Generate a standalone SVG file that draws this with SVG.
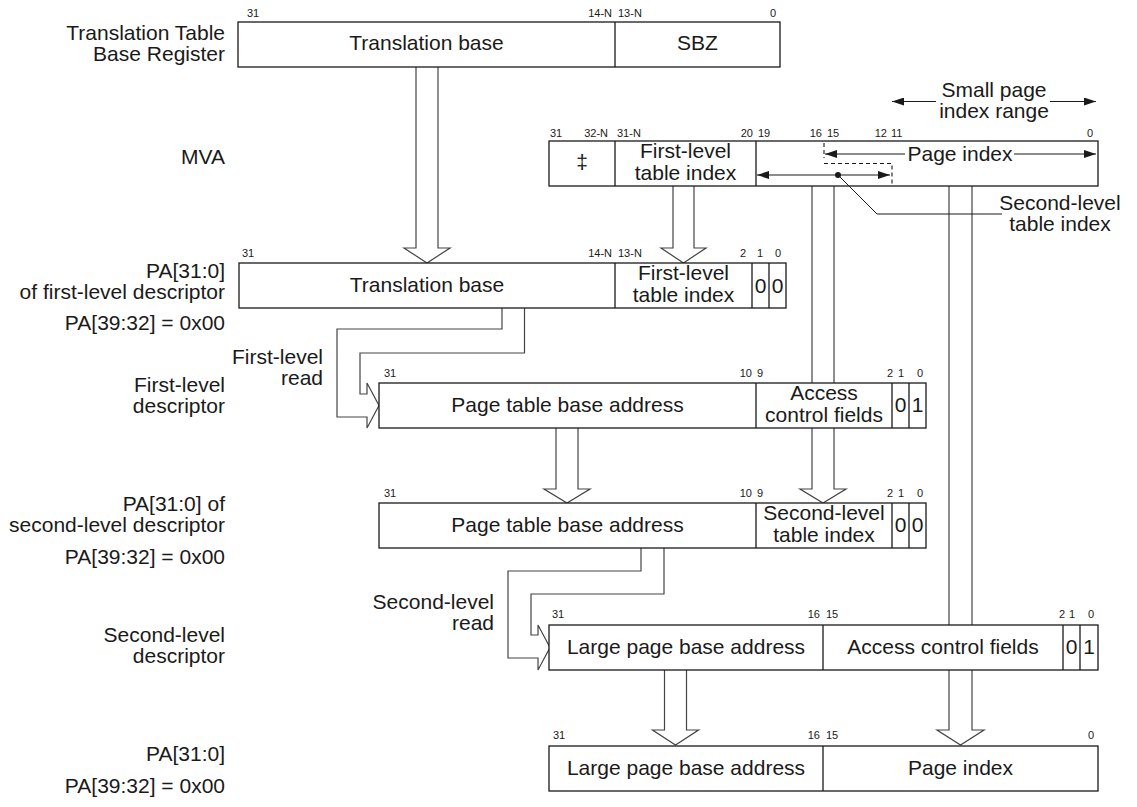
<svg xmlns="http://www.w3.org/2000/svg" width="1137" height="807" viewBox="0 0 1137 807">
<defs>
<marker id="ah" viewBox="0 0 12 8" refX="12" refY="4" markerWidth="12" markerHeight="8" markerUnits="userSpaceOnUse" orient="auto-start-reverse"><path d="M0,0 L12,4 L0,8 z" fill="#1a1a1a"/></marker>
</defs>
<style>
text{font-family:"Liberation Sans",Arial,Helvetica,sans-serif;fill:#1a1a1a}
.t{font-size:21px}
.m{text-anchor:middle}
.e{text-anchor:end}
.b{font-size:11px}
.box{fill:#fff;stroke:#1a1a1a;stroke-width:1.3}
.dv{stroke:#1a1a1a;stroke-width:1.3}
.conn{fill:none;stroke:#444;stroke-width:1.2}
.dash{fill:none;stroke:#1a1a1a;stroke-width:1.1;stroke-dasharray:4 3}
.ar{stroke:#1a1a1a;stroke-width:1.2;fill:none;marker-end:url(#ah)}
.ar2{stroke:#1a1a1a;stroke-width:1.2;fill:none;marker-end:url(#ah);marker-start:url(#ah)}
.ld{stroke:#1a1a1a;stroke-width:1;fill:none}
</style>
<rect width="1137" height="807" fill="#fff"/>

<g id="connectors">
<path class="conn" d="M416,67 V248 H404 L427,263 L450,248 H438 V67"/>
<path class="conn" d="M673,186 V248 H661 L683.5,263 L706,248 H694 V186"/>
<path class="conn" d="M502,308 V329 H337 V417 H367 V428 L379,405.5 L367,383 V394 H360 V353 H524.5 V308"/>
<path class="conn" d="M556,428 V489 H544 L567,503 L590,489 H578 V428"/>
<path class="conn" d="M812,186 V489 H800 L823,503 L846,489 H834 V186"/>
<path class="conn" d="M641,548 V571 H508 V658 H538 V670 L550,647.5 L538,625 V635 H531 V594 H664 V548"/>
<path class="conn" d="M664.5,670 V730 H652.5 L675.5,745 L698.5,730 H686.5 V670"/>
<path class="conn" d="M949,186 V730 H937 L960.5,745 L984,730 H972 V186"/>
</g>

<g id="ttbr">
<text class="t e" x="225" y="40">Translation Table</text>
<text class="t e" x="225" y="61">Base Register</text>
<rect class="box" x="238" y="22" width="542" height="45"/>
<line class="dv" x1="615" y1="22" x2="615" y2="67"/>
<text class="b" x="247" y="17">31</text>
<text class="b e" x="612" y="17">14-N</text>
<text class="b" x="618" y="17">13-N</text>
<text class="b m" x="773" y="17">0</text>
<text class="t m" x="426.5" y="50">Translation base</text>
<text class="t m" x="697.5" y="50">SBZ</text>
</g>

<g id="mva">
<text class="t e" x="225" y="164">MVA</text>
<text class="t m" x="994" y="97">Small page</text>
<text class="t m" x="994" y="118">index range</text>
<line class="ar" x1="936" y1="101.5" x2="892" y2="101.5"/>
<line class="ar" x1="1050" y1="101.5" x2="1096" y2="101.5"/>
<rect class="box" x="549" y="141" width="549" height="45"/>
<line class="dv" x1="615" y1="141" x2="615" y2="186"/>
<line class="dv" x1="756" y1="141" x2="756" y2="186"/>
<text class="b" x="550" y="137">31</text>
<text class="b e" x="608" y="137">32-N</text>
<text class="b" x="617" y="137">31-N</text>
<text class="b e" x="753" y="137">20</text>
<text class="b" x="758" y="137">19</text>
<text class="b e" x="822" y="137">16</text>
<text class="b" x="827" y="137">15</text>
<text class="b e" x="887" y="137">12</text>
<text class="b" x="891" y="137">11</text>
<text class="b m" x="1090" y="137">0</text>
<text class="t m" x="582" y="169">‡</text>
<text class="t m" x="685.5" y="158">First-level</text>
<text class="t m" x="685.5" y="180">table index</text>
<line class="dash" x1="824" y1="143" x2="824" y2="158"/>
<path class="dash" d="M824,163.5 H892 V186"/>
<line class="ar" x1="905" y1="154" x2="825" y2="154"/>
<line class="ar" x1="1014" y1="154" x2="1096" y2="154"/>
<text class="t m" x="960" y="161">Page index</text>
<line class="ar2" x1="757" y1="175" x2="890" y2="175"/>
<circle cx="838" cy="175" r="3" fill="#1a1a1a"/>
<path class="ld" d="M838,175 L877,214 H1002"/>
<text class="t m" x="1060" y="210">Second-level</text>
<text class="t m" x="1060" y="231">table index</text>
</g>

<g id="pa1">
<text class="t e" x="225" y="278">PA[31:0]</text>
<text class="t e" x="225" y="299">of first-level descriptor</text>
<text class="t e" x="225" y="330">PA[39:32] = 0x00</text>
<rect class="box" x="239" y="263" width="547" height="45"/>
<line class="dv" x1="615" y1="263" x2="615" y2="308"/>
<line class="dv" x1="752" y1="263" x2="752" y2="308"/>
<line class="dv" x1="769" y1="263" x2="769" y2="308"/>
<text class="b" x="242" y="257">31</text>
<text class="b e" x="612" y="257">14-N</text>
<text class="b" x="618" y="257">13-N</text>
<text class="b e" x="746" y="257">2</text>
<text class="b m" x="760" y="257">1</text>
<text class="b m" x="778" y="257">0</text>
<text class="t m" x="427" y="292">Translation base</text>
<text class="t m" x="683.5" y="280">First-level</text>
<text class="t m" x="683.5" y="302">table index</text>
<text class="t m" x="760.5" y="293">0</text>
<text class="t m" x="777.5" y="293">0</text>
</g>

<g id="desc1">
<text class="t e" x="323" y="364">First-level</text>
<text class="t e" x="323" y="385">read</text>
<text class="t e" x="225" y="392">First-level</text>
<text class="t e" x="225" y="413">descriptor</text>
<rect class="box" x="379" y="383" width="547" height="45"/>
<line class="dv" x1="756" y1="383" x2="756" y2="428"/>
<line class="dv" x1="892" y1="383" x2="892" y2="428"/>
<line class="dv" x1="909" y1="383" x2="909" y2="428"/>
<text class="b" x="384" y="377">31</text>
<text class="b e" x="752" y="377">10</text>
<text class="b" x="757" y="377">9</text>
<text class="b e" x="893" y="377">2</text>
<text class="b m" x="901" y="377">1</text>
<text class="b m" x="920" y="377">0</text>
<text class="t m" x="567.5" y="412">Page table base address</text>
<text class="t m" x="824" y="400">Access</text>
<text class="t m" x="824" y="422">control fields</text>
<text class="t m" x="900.5" y="412">0</text>
<text class="t m" x="917.5" y="412">1</text>
</g>

<g id="pa2">
<text class="t e" x="225" y="511">PA[31:0] of</text>
<text class="t e" x="225" y="532">second-level descriptor</text>
<text class="t e" x="225" y="564">PA[39:32] = 0x00</text>
<rect class="box" x="379" y="503" width="547" height="45"/>
<line class="dv" x1="756" y1="503" x2="756" y2="548"/>
<line class="dv" x1="892" y1="503" x2="892" y2="548"/>
<line class="dv" x1="909" y1="503" x2="909" y2="548"/>
<text class="b" x="384" y="497">31</text>
<text class="b e" x="752" y="497">10</text>
<text class="b" x="757" y="497">9</text>
<text class="b e" x="893" y="497">2</text>
<text class="b m" x="901" y="497">1</text>
<text class="b m" x="920" y="497">0</text>
<text class="t m" x="567.5" y="532">Page table base address</text>
<text class="t m" x="824" y="520">Second-level</text>
<text class="t m" x="824" y="542">table index</text>
<text class="t m" x="900.5" y="532">0</text>
<text class="t m" x="917.5" y="532">0</text>
</g>

<g id="desc2">
<text class="t e" x="494" y="609">Second-level</text>
<text class="t e" x="494" y="630">read</text>
<text class="t e" x="225" y="642">Second-level</text>
<text class="t e" x="225" y="663">descriptor</text>
<rect class="box" x="549" y="625" width="549" height="45"/>
<line class="dv" x1="823" y1="625" x2="823" y2="670"/>
<line class="dv" x1="1063" y1="625" x2="1063" y2="670"/>
<line class="dv" x1="1080" y1="625" x2="1080" y2="670"/>
<text class="b" x="552" y="618">31</text>
<text class="b e" x="820" y="618">16</text>
<text class="b" x="826" y="618">15</text>
<text class="b e" x="1065" y="618">2</text>
<text class="b m" x="1072" y="618">1</text>
<text class="b m" x="1091" y="618">0</text>
<text class="t m" x="686" y="654">Large page base address</text>
<text class="t m" x="943" y="654">Access control fields</text>
<text class="t m" x="1071.5" y="654">0</text>
<text class="t m" x="1089" y="654">1</text>
</g>

<g id="pa">
<text class="t e" x="225" y="761">PA[31:0]</text>
<text class="t e" x="225" y="793">PA[39:32] = 0x00</text>
<rect class="box" x="549" y="746" width="549" height="45"/>
<line class="dv" x1="823" y1="746" x2="823" y2="791"/>
<text class="b" x="553" y="739">31</text>
<text class="b e" x="820" y="739">16</text>
<text class="b" x="826" y="739">15</text>
<text class="b m" x="1091" y="739">0</text>
<text class="t m" x="686" y="775">Large page base address</text>
<text class="t m" x="960.5" y="775">Page index</text>
</g>
</svg>
